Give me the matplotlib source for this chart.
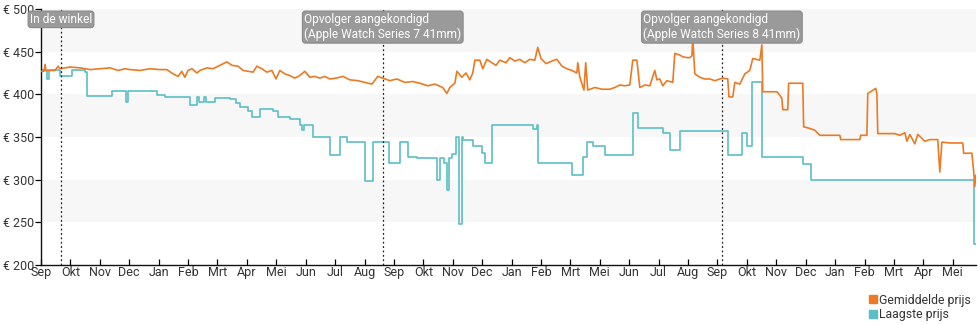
import matplotlib
matplotlib.use("Agg")
import matplotlib.pyplot as plt
from matplotlib.lines import Line2D

plt.rcParams["font.family"] = ["Roboto", "DejaVu Sans"]

# x-as in maanden vanaf begin september (ticks op gelijke afstand)
maand_labels = ["Sep", "Okt", "Nov", "Dec", "Jan", "Feb", "Mrt", "Apr", "Mei", "Jun",
                "Jul", "Aug", "Sep", "Okt", "Nov", "Dec", "Jan", "Feb", "Mrt", "Mei",
                "Jun", "Jul", "Aug", "Sep", "Okt", "Nov", "Dec", "Jan", "Feb", "Mrt",
                "Apr", "Mei"]

# Laagste prijs (trapfunctie)
laagste_x = [0, 0.20, 0.27, 0.65, 1.05, 1.50, 1.56, 2.41, 2.89, 2.96, 3.94, 4.21, 5.06,
             5.30, 5.37, 5.54, 5.61, 5.91, 6.42, 6.63, 6.76, 7.04, 7.17, 7.44, 7.89, 8.06,
             8.46, 8.80, 8.87, 8.94, 9.25, 9.82, 10.16, 10.40, 11.01, 11.28, 11.83, 12.20,
             12.47, 12.78, 13.46, 13.56, 13.70, 13.80, 13.87, 13.97, 14.11, 14.21, 14.31,
             14.34, 14.68, 14.99, 15.09, 15.33, 16.72, 16.86, 16.89, 18.05, 18.42, 18.56,
             18.76, 19.17, 20.12, 20.29, 21.14, 21.38, 21.72, 23.35, 23.83, 24.00, 24.17,
             24.51, 25.90, 26.17, 31.68, 31.71, 31.78]
laagste_y = [428, 418, 428, 422, 428, 426, 398, 404, 391, 404, 399, 397, 388, 397, 391,
             397, 391, 396, 395, 390, 385, 380, 373, 383, 380, 374, 371, 364, 358, 364,
             350, 329, 350, 344, 299, 344, 319, 344, 326, 325, 300, 325, 320, 288, 325,
             330, 350, 248, 350, 346, 339, 331, 320, 364, 359, 364, 319, 305, 327, 344,
             339, 329, 378, 360, 355, 335, 357, 329, 355, 340, 414, 326, 318, 300, 300,
             225, 225]

# Gemiddelde prijs
gem_x = [0, 0.10, 0.14, 0.17, 0.48, 0.58, 0.65, 0.99, 1.33, 1.67, 2.01, 2.35, 2.62, 2.86,
         3.03, 3.37, 3.70, 4.04, 4.28, 4.49, 4.66, 4.79, 4.89, 5.00, 5.13, 5.30, 5.40,
         5.64, 5.85, 6.08, 6.32, 6.49, 6.70, 6.87, 7.04, 7.21, 7.34, 7.51, 7.68, 7.85,
         7.99, 8.12, 8.29, 8.46, 8.63, 8.80, 8.97, 9.14, 9.31, 9.48, 9.65, 9.82, 10.03,
         10.27, 10.50, 10.77, 11.01, 11.25, 11.45, 11.62, 11.86, 12.10, 12.37, 12.64,
         12.88, 13.15, 13.39, 13.66, 13.80, 13.90, 14.07, 14.14, 14.31, 14.45, 14.58,
         14.68, 14.75, 14.92, 15.02, 15.16, 15.33, 15.47, 15.60, 15.81, 15.94, 16.11,
         16.28, 16.45, 16.62, 16.79, 16.89, 17.00, 17.17, 17.37, 17.54, 17.71, 17.88,
         18.05, 18.22, 18.25, 18.32, 18.46, 18.52, 18.59, 18.83, 19.07, 19.34, 19.51,
         19.68, 19.85, 20.02, 20.12, 20.26, 20.36, 20.53, 20.70, 20.87, 20.94, 21.04,
         21.14, 21.28, 21.48, 21.55, 21.72, 21.82, 21.96, 22.06, 22.13, 22.16, 22.23,
         22.40, 22.57, 22.74, 22.91, 23.08, 23.18, 23.35, 23.39, 23.52, 23.59, 23.76,
         23.93, 24.10, 24.20, 24.44, 24.51, 24.54, 25.02, 25.12, 25.19, 25.22, 25.39,
         25.42, 25.90, 25.93, 26.14, 26.31, 26.48, 27.16, 27.19, 27.84, 27.87, 28.08,
         28.11, 28.25, 28.38, 28.42, 28.45, 29.03, 29.20, 29.37, 29.44, 29.54, 29.71,
         29.81, 30.05, 30.22, 30.49, 30.56, 30.63, 30.90, 31.34, 31.37, 31.65, 31.71,
         31.75, 31.78]
gem_y = [427, 427, 435, 428, 428, 433, 430, 432, 431, 429, 430, 431, 428, 430, 429, 428,
         430, 429, 429, 424, 421, 427, 420, 428, 430, 425, 428, 431, 430, 434, 438, 434,
         433, 428, 427, 426, 433, 430, 426, 428, 418, 428, 424, 422, 419, 422, 427, 420,
         421, 419, 421, 418, 419, 421, 417, 416, 414, 412, 421, 419, 416, 418, 414, 415,
         413, 410, 412, 408, 401, 408, 413, 427, 420, 425, 417, 425, 440, 440, 430, 441,
         437, 434, 440, 437, 443, 439, 441, 437, 441, 440, 455, 442, 436, 439, 441, 433,
         430, 428, 425, 437, 420, 405, 437, 405, 408, 406, 406, 408, 411, 410, 411, 440,
         440, 408, 411, 410, 428, 417, 418, 410, 416, 414, 448, 446, 444, 443, 443, 445,
         466, 424, 420, 418, 418, 416, 418, 419, 418, 397, 397, 414, 412, 424, 428, 442,
         440, 458, 403, 403, 399, 395, 382, 382, 413, 413, 362, 360, 358, 352, 352, 347,
         347, 352, 352, 401, 404, 407, 401, 354, 354, 352, 355, 345, 353, 342, 353, 345,
         347, 347, 309, 344, 343, 343, 331, 331, 310, 292, 305]

# gebeurtenissen (positie in maanden, tekst)
event_x = [0.68, 11.62, 23.15]
event_tekst = ["In de winkel",
               "Opvolger aangekondigd\n(Apple Watch Series 7 41mm)",
               "Opvolger aangekondigd\n(Apple Watch Series 8 41mm)"]

ORANJE = "#ec7a24"
TEAL = "#5bbfc6"

fig = plt.figure(figsize=(9.8, 3.25), dpi=100)
ax = fig.add_axes([41 / 980, 1 - 265 / 325, 935 / 980, 256 / 325])

# afwisselende grijze banden
for lo in (250, 350, 450):
    ax.axhspan(lo, lo + 50, color="#f7f7f7", zorder=0, lw=0)

ax.plot(gem_x, gem_y, color=ORANJE, lw=1.2, zorder=3)
ax.plot(laagste_x, laagste_y, color=TEAL, lw=1.2, drawstyle="steps-post", zorder=2)

for x, t in zip(event_x, event_tekst):
    ax.axvline(x, color="#222222", lw=0.9, ls=(0, (1.5, 2)), zorder=4)
    ax.text(x, 0.985, t, transform=ax.get_xaxis_transform(), ha="center", va="top",
            multialignment="left", color="white", fontsize=8.6, zorder=5, clip_on=False,
            bbox=dict(boxstyle="round,pad=0.15,rounding_size=0.25", fc="#9a9a9a",
                      ec="#8a8a8a", lw=0.8))

ax.set_xlim(0, 31.79)
ax.set_ylim(200, 500)
ax.set_xticks(range(len(maand_labels)))
ax.set_xticklabels(maand_labels)
ax.set_yticks(range(200, 501, 50))
ax.set_yticklabels([f"€ {v}" for v in range(200, 501, 50)])

for s in ("top", "right"):
    ax.spines[s].set_visible(False)
for s in ("left", "bottom"):
    ax.spines[s].set_color("#111111")
    ax.spines[s].set_linewidth(1.0)

ax.tick_params(axis="y", direction="out", length=4, width=0.9, pad=1,
               labelsize=9, labelcolor="#333333")
ax.tick_params(axis="x", direction="in", length=4, width=0.9, pad=1,
               labelsize=9, labelcolor="#333333")

handles = [Line2D([], [], ls="none", marker="s", ms=5.5, color=ORANJE),
           Line2D([], [], ls="none", marker="s", ms=5.5, color=TEAL)]
fig.legend(handles, ["Gemiddelde prijs", "Laagste prijs"], loc="upper right",
           bbox_to_anchor=(0.997, 0.115), frameon=False, fontsize=8.8,
           handlelength=0.6, handletextpad=0.2, labelspacing=0.1,
           borderpad=0, labelcolor="#333333")

fig.savefig("out.png", dpi=100)
